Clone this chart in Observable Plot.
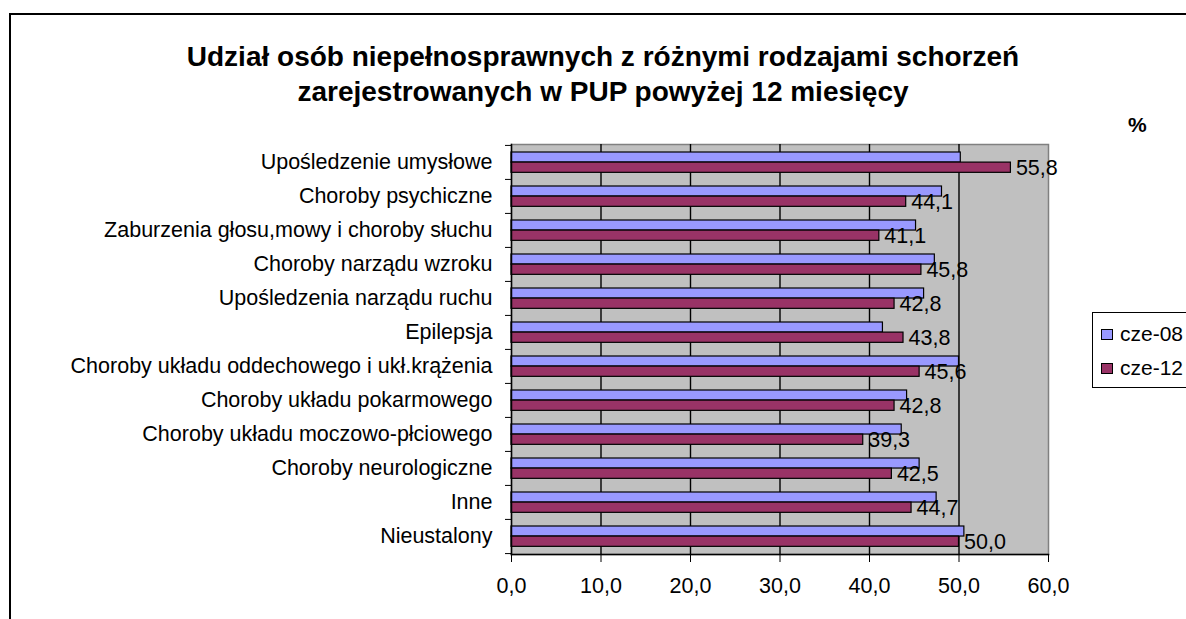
<!DOCTYPE html>
<html>
<head>
<meta charset="utf-8">
<script src="https://cdn.jsdelivr.net/npm/d3@7"></script>
<script src="https://cdn.jsdelivr.net/npm/@observablehq/plot@0.6"></script>
<style>
  body { margin: 0; background: #fff; font-family: "Liberation Sans", Arial, sans-serif; color: #000; }
  #wrap { position: relative; width: 1186px; height: 619px; overflow: hidden; background: #fff; }
  #frame { position: absolute; left: 9px; top: 13px; width: 1300px; height: 800px; border: 2px solid #000; box-sizing: border-box; }
  #title { position: absolute; left: 0; width: 1206px; top: 39px; text-align: center; font-weight: bold; font-size: 28px; line-height: 35px; }
  #pct { position: absolute; left: 1128px; top: 113px; font-weight: bold; font-size: 21px; }
  #chart { position: absolute; left: 0; top: 0; }
  #legend { position: absolute; left: 1092px; top: 312px; width: 200px; height: 76px; border: 1px solid #000; background: #fff; box-sizing: border-box; }
  .item { position: absolute; left: 8px; font-size: 21px; line-height: 24px; display: flex; align-items: center; }
  .sw { display: inline-block; width: 10px; height: 9px; border: 1px solid #000; margin-right: 7px; }
</style>
</head>
<body>
<div id="wrap">
  <div id="frame"></div>
  <div id="chart"></div>
  <div id="title">Udział osób niepełnosprawnych z różnymi rodzajami schorzeń<br>zarejestrowanych w PUP powyżej 12 miesięcy</div>
  <div id="pct">%</div>
  <div id="legend"></div>
</div>
<script>
const categories = [
  "Upośledzenie umysłowe",
  "Choroby psychiczne",
  "Zaburzenia głosu,mowy i choroby słuchu",
  "Choroby narządu wzroku",
  "Upośledzenia narządu ruchu",
  "Epilepsja",
  "Choroby układu oddechowego i ukł.krążenia",
  "Choroby układu pokarmowego",
  "Choroby układu moczowo-płciowego",
  "Choroby neurologiczne",
  "Inne",
  "Nieustalony"
];
const seriesNames = ["cze-08", "cze-12"];
const cze08 = [50.2, 48.1, 45.2, 47.3, 46.1, 41.5, 50.0, 44.2, 43.6, 45.6, 47.5, 50.6];
const cze12 = [55.8, 44.1, 41.1, 45.8, 42.8, 43.8, 45.6, 42.8, 39.3, 42.5, 44.7, 50.0];
const xTicks = [0, 10, 20, 30, 40, 50, 60];
const gridTicks = [10, 20, 30, 40, 50];
const colors = {"cze-08": "#9999ff", "cze-12": "#993366"};

const fmt = d => d.toFixed(1).replace(".", ",");
const rows08 = categories.map((c, i) => ({cat: c, series: "cze-08", value: cze08[i]}));
const rows12 = categories.map((c, i) => ({cat: c, series: "cze-12", value: cze12[i]}));

const mTop = 144, mBottom = 65, H = 619;
const band = (H - mTop - mBottom) / categories.length;

const chart = Plot.plot({
  width: 1186,
  height: H,
  marginLeft: 511,
  marginRight: 138,
  marginTop: mTop,
  marginBottom: mBottom,
  style: {fontFamily: "'Liberation Sans', Arial, sans-serif", fontSize: "21px", color: "#000", background: "transparent", overflow: "visible"},
  x: {domain: [0, 60]},
  y: {domain: categories, padding: 0},
  marks: [
    Plot.frame({fill: "#c0c0c0"}),
    Plot.frame({stroke: "#808080", strokeWidth: 1.5}),
    Plot.ruleX(gridTicks, {stroke: "#000", strokeWidth: 1.4}),
    Plot.barX(rows08, {x: "value", y: "cat", fill: colors["cze-08"], stroke: "#000", strokeWidth: 1.2, insetTop: 7, insetBottom: band - 7 - 10.2}),
    Plot.barX(rows12, {x: "value", y: "cat", fill: colors["cze-12"], stroke: "#000", strokeWidth: 1.2, insetTop: 17.1, insetBottom: band - 17.1 - 10.4}),
    Plot.text(rows12, {x: "value", y: "cat", text: d => fmt(d.value), textAnchor: "start", dx: 5, dy: 6, fontSize: 21.5, fill: "#000"}),
    Plot.axisX({ticks: xTicks, tickFormat: fmt, tickSize: 8, tickPadding: 15, fontSize: 21.5, label: null, stroke: "#000"}),
    Plot.axisY({tickSize: 0, tickPadding: 19, fontSize: 21.5, label: null}),
    Plot.axisY({tickSize: 6, tickFormat: () => "", dy: -band / 2, label: null, stroke: "#000"}),
    Plot.axisY({ticks: [categories[categories.length - 1]], tickSize: 6, tickFormat: () => "", dy: band / 2, label: null, stroke: "#000"}),
    Plot.frame({anchor: "left", stroke: "#000", strokeWidth: 1.5}),
    Plot.frame({anchor: "bottom", stroke: "#000", strokeWidth: 1.5})
  ]
});
document.getElementById("chart").appendChild(chart);

const legend = document.getElementById("legend");
seriesNames.forEach((s, i) => {
  const item = document.createElement("div");
  item.className = "item";
  item.style.top = (9 + i * 34) + "px";
  const sw = document.createElement("span");
  sw.className = "sw";
  sw.style.background = colors[s];
  item.appendChild(sw);
  item.appendChild(document.createTextNode(s));
  legend.appendChild(item);
});
</script>
</body>
</html>
